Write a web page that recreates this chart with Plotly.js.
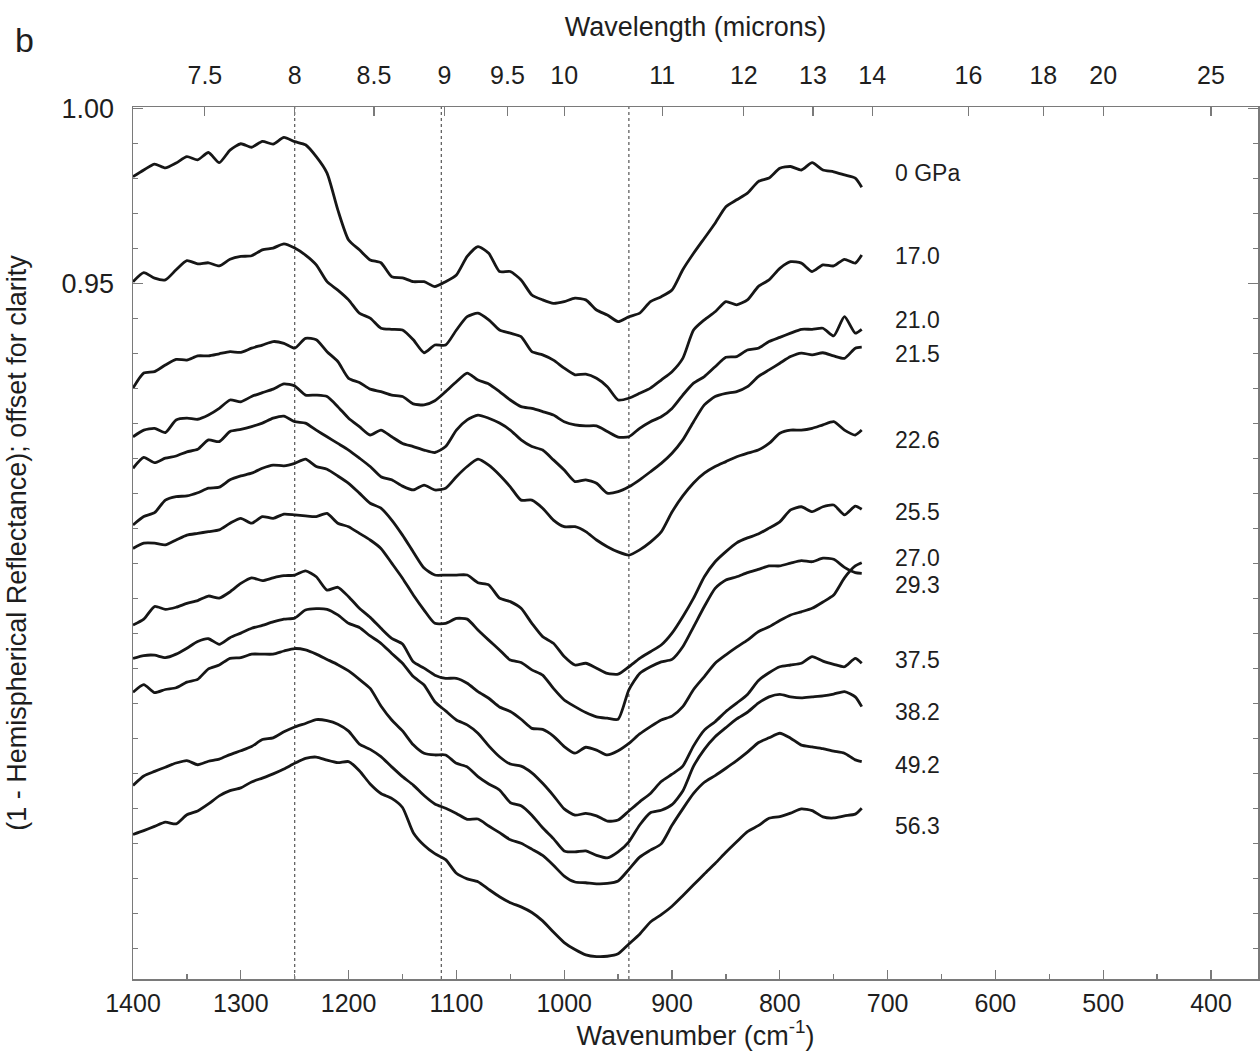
<!DOCTYPE html>
<html>
<head>
<meta charset="utf-8">
<script src="https://cdn.plot.ly/plotly-3.0.1.min.js"></script>
<style>
html,body{margin:0;padding:0;background:#ffffff;}
#chart{width:1260px;height:1056px;}
</style>
</head>
<body>
<div id="chart"></div>
<script>
// Wavenumber grid (cm^-1)
const wavenumber = [1400,1390,1380,1370,1360,1350,1340,1330,1320,1310,
  1300,1290,1280,1270,1260,1250,1240,1230,1220,1210,
  1200,1190,1180,1170,1160,1150,1140,1130,1120,1110,
  1100,1090,1080,1070,1060,1050,1040,1030,1020,1010,
  1000,990,980,970,960,950,940,930,920,910,
  900,890,880,870,860,850,840,830,820,810,
  800,790,780,770,760,750,740,730,724];

// (1 - hemispherical reflectance), offset for clarity
const p00_0 = [0.9805,0.9824,0.9841,0.983,0.9844,0.9862,0.9853,0.9874,0.9845,0.9881,
  0.9899,0.9889,0.9906,0.9898,0.9917,0.9905,0.9896,0.9862,0.9815,0.971,
  0.9624,0.9596,0.9567,0.9559,0.9519,0.9516,0.9505,0.9505,0.9491,0.9505,
  0.9524,0.9577,0.9605,0.9586,0.9534,0.9534,0.951,0.9467,0.9453,0.9443,
  0.9448,0.9458,0.9453,0.9424,0.941,0.9391,0.9405,0.9415,0.9448,0.9462,
  0.9481,0.9539,0.9586,0.9629,0.9672,0.9719,0.9739,0.9758,0.9791,0.9801,
  0.9829,0.9834,0.9824,0.9845,0.9824,0.9819,0.981,0.9801,0.9775];
const p17_0 = [0.9505,0.9531,0.9515,0.951,0.9539,0.9565,0.9556,0.9559,0.955,0.9569,
  0.9577,0.9579,0.9596,0.9601,0.9613,0.9601,0.9581,0.9553,0.9505,0.9481,
  0.9453,0.9415,0.9401,0.9372,0.9369,0.9367,0.9339,0.9302,0.9324,0.9324,
  0.9367,0.9405,0.9415,0.9396,0.9367,0.9358,0.9348,0.9305,0.9296,0.9281,
  0.9258,0.9239,0.9241,0.9229,0.9205,0.9167,0.9172,0.9186,0.9201,0.9224,
  0.9248,0.9286,0.9367,0.9396,0.9419,0.9448,0.9439,0.9453,0.9491,0.951,
  0.9543,0.9562,0.9558,0.9534,0.9553,0.955,0.9569,0.9558,0.9581];
const p21_0 = [0.9201,0.9244,0.9248,0.9267,0.9283,0.9281,0.9293,0.9293,0.9299,0.9305,
  0.9303,0.9315,0.9324,0.9334,0.9329,0.9315,0.9343,0.9339,0.9305,0.9277,
  0.9229,0.9217,0.9198,0.9191,0.9181,0.9177,0.9156,0.9153,0.9165,0.9191,
  0.9219,0.9244,0.9224,0.9213,0.9191,0.9167,0.9148,0.9143,0.9134,0.9124,
  0.9105,0.9096,0.9093,0.9093,0.9077,0.9061,0.9062,0.9086,0.9105,0.9119,
  0.9143,0.9181,0.9215,0.9234,0.9262,0.9289,0.9291,0.931,0.9315,0.9334,
  0.9346,0.9358,0.9369,0.9369,0.9372,0.935,0.9405,0.9358,0.9369];
const p21_5 = [0.9062,0.9081,0.9086,0.9074,0.911,0.9115,0.9112,0.9124,0.9143,0.9167,
  0.9162,0.9177,0.9188,0.9198,0.9213,0.9207,0.9181,0.9181,0.9177,0.9148,
  0.9115,0.9091,0.9067,0.9081,0.9062,0.9043,0.9034,0.9024,0.9017,0.9034,
  0.9081,0.911,0.9124,0.9115,0.9101,0.9081,0.9053,0.9034,0.9024,0.8996,
  0.8967,0.8934,0.8939,0.8929,0.8901,0.8905,0.8919,0.8939,0.8962,0.8986,
  0.9015,0.9053,0.9105,0.9153,0.9177,0.9186,0.9191,0.9205,0.9234,0.9253,
  0.9272,0.9291,0.9301,0.9296,0.9302,0.9293,0.9286,0.9315,0.9318];
const p22_6 = [0.8972,0.9003,0.8988,0.9001,0.9007,0.9019,0.9026,0.9053,0.9048,0.9077,
  0.9083,0.9091,0.9101,0.9115,0.9121,0.9105,0.9101,0.9081,0.9062,0.9043,
  0.9024,0.9001,0.8977,0.8948,0.8939,0.8921,0.891,0.8924,0.891,0.8915,
  0.8948,0.8977,0.8998,0.8981,0.8953,0.8919,0.8881,0.8881,0.8858,0.8824,
  0.8805,0.8805,0.8791,0.8767,0.8748,0.8733,0.8724,0.8739,0.8761,0.879,
  0.8847,0.8893,0.893,0.8958,0.8977,0.8991,0.9005,0.9015,0.9024,0.9043,
  0.9072,0.9081,0.9081,0.9086,0.9096,0.9105,0.9081,0.9067,0.9081];
const p25_5 = [0.881,0.8834,0.8845,0.8881,0.8891,0.8893,0.8902,0.8915,0.8918,0.8939,
  0.895,0.8958,0.8972,0.8981,0.8979,0.8986,0.8998,0.8977,0.8969,0.895,
  0.8929,0.8901,0.8872,0.8858,0.8824,0.8781,0.8733,0.8687,0.8667,0.8667,
  0.8667,0.8667,0.8645,0.8639,0.8601,0.8591,0.8572,0.8529,0.8491,0.8472,
  0.8434,0.841,0.8415,0.8401,0.8386,0.8384,0.8405,0.8429,0.8448,0.8467,
  0.8501,0.8548,0.8601,0.8662,0.8705,0.8734,0.8759,0.8773,0.8784,0.8801,
  0.8819,0.8853,0.8862,0.8848,0.8862,0.8867,0.8839,0.8864,0.8855];
const p27_0 = [0.8743,0.8758,0.8758,0.8753,0.8767,0.8781,0.8786,0.8791,0.8796,0.8815,
  0.8829,0.8815,0.8834,0.8829,0.8841,0.8839,0.8836,0.8834,0.8843,0.8815,
  0.8805,0.8786,0.8767,0.8743,0.8701,0.8658,0.861,0.8567,0.8529,0.8529,
  0.8543,0.8541,0.851,0.8481,0.8453,0.8424,0.8417,0.8396,0.8381,0.8343,
  0.831,0.8291,0.8274,0.8262,0.8258,0.8255,0.8339,0.8386,0.8405,0.8419,
  0.8426,0.8462,0.8519,0.8577,0.8629,0.8653,0.8662,0.8674,0.8683,0.8693,
  0.8693,0.8701,0.8708,0.8705,0.8715,0.8712,0.8689,0.8674,0.8672];
const p29_3 = [0.8524,0.8541,0.8577,0.8569,0.8575,0.8586,0.8594,0.8607,0.8601,0.8619,
  0.8643,0.8659,0.8651,0.8659,0.8665,0.8667,0.8679,0.8662,0.8624,0.8632,
  0.8605,0.8572,0.8546,0.8515,0.8486,0.847,0.8419,0.8401,0.8381,0.8372,
  0.8372,0.8358,0.8334,0.8315,0.829,0.8277,0.8255,0.8229,0.8226,0.8207,
  0.8177,0.8158,0.8175,0.8167,0.8153,0.8165,0.8186,0.8213,0.8234,0.8253,
  0.8264,0.8291,0.834,0.8377,0.8415,0.8439,0.8461,0.8481,0.8505,0.8519,
  0.8537,0.8553,0.8562,0.8572,0.859,0.861,0.8659,0.8693,0.8702];
const p37_5 = [0.8429,0.8437,0.8438,0.8431,0.8441,0.8458,0.8477,0.8485,0.8469,0.8488,
  0.8501,0.8515,0.8523,0.8533,0.8541,0.8544,0.8567,0.8571,0.8569,0.8553,
  0.8529,0.8517,0.8493,0.8472,0.8443,0.8415,0.8377,0.8353,0.8305,0.8279,
  0.8253,0.8239,0.8215,0.8179,0.8148,0.8127,0.8121,0.8102,0.8072,0.8037,
  0.7999,0.7981,0.7986,0.7979,0.7964,0.7967,0.7993,0.8019,0.8043,0.8077,
  0.8098,0.8121,0.8179,0.8224,0.8248,0.8277,0.8301,0.8326,0.8365,0.8388,
  0.8405,0.841,0.8415,0.8434,0.8421,0.8412,0.8405,0.8429,0.8415];
const p38_2 = [0.8332,0.8354,0.8331,0.834,0.8345,0.8361,0.8369,0.8399,0.841,0.8429,
  0.8431,0.8441,0.8441,0.8441,0.845,0.8457,0.8453,0.8441,0.8426,0.8411,
  0.8393,0.8369,0.8343,0.8293,0.8253,0.8222,0.8182,0.8158,0.8153,0.8153,
  0.8129,0.8119,0.8091,0.807,0.8053,0.8017,0.8008,0.7981,0.7945,0.7914,
  0.7879,0.7876,0.7879,0.7866,0.7859,0.7876,0.7905,0.7953,0.7988,0.7995,
  0.8011,0.805,0.8121,0.8169,0.8205,0.8231,0.8256,0.8275,0.8301,0.8319,
  0.8326,0.8319,0.8316,0.8319,0.8322,0.8327,0.8334,0.8319,0.8291];
const p49_2 = [0.8066,0.8093,0.8106,0.8118,0.813,0.8137,0.8125,0.8135,0.8141,0.8154,
  0.8165,0.8177,0.8197,0.8202,0.8219,0.8233,0.8243,0.8254,0.8251,0.8241,
  0.8221,0.8184,0.8169,0.8148,0.8119,0.8091,0.8067,0.8037,0.8013,0.8001,
  0.7986,0.7969,0.797,0.795,0.7931,0.7911,0.7901,0.7884,0.7866,0.7838,
  0.7807,0.779,0.7788,0.7785,0.7786,0.7793,0.7826,0.7861,0.7881,0.7899,
  0.7952,0.7999,0.8043,0.8075,0.8094,0.8115,0.8137,0.8161,0.8188,0.8202,
  0.8215,0.8201,0.8181,0.8176,0.8171,0.8164,0.8158,0.8139,0.8134];
const p56_3 = [0.7926,0.7937,0.7949,0.7961,0.7956,0.7982,0.7993,0.8013,0.8036,0.8051,
  0.8059,0.8076,0.8087,0.8099,0.8113,0.8129,0.8143,0.8147,0.8138,0.8131,
  0.8134,0.8108,0.807,0.8043,0.8029,0.8003,0.7931,0.7895,0.7871,0.7854,
  0.7815,0.7799,0.7791,0.7769,0.7748,0.7731,0.7719,0.7703,0.7679,0.7647,
  0.7617,0.7597,0.7582,0.7577,0.7578,0.7585,0.7613,0.7641,0.7676,0.7697,
  0.7721,0.7751,0.7782,0.7813,0.7843,0.7875,0.7905,0.7934,0.7951,0.7972,
  0.7977,0.7987,0.7999,0.7994,0.7976,0.7973,0.7979,0.7984,0.8001];

const seriesNames = ['0 GPa','17.0','21.0','21.5','22.6','25.5','27.0','29.3','37.5','38.2','49.2','56.3'];
const seriesValues = [p00_0,p17_0,p21_0,p21_5,p22_6,p25_5,p27_0,p29_3,p37_5,p38_2,p49_2,p56_3];
const labelY = [0.9816,0.9579,0.9396,0.9299,0.9053,0.8847,0.8716,0.8639,0.8424,0.8276,0.8124,0.7950];
const labelX = 695;

const wavelengthTicks = [7.5,8,8.5,9,9.5,10,11,12,13,14,16,18,20,25];
const guideWavenumbers = [1250,1114,940];
const yTickVals = [0.95,1.00];
const yTickText = ['0.95','1.00'];

const xRange = [1400,356.4];
const yRange = [0.7513,1.0004];

const FONT = 'Liberation Sans, Arial, Helvetica, sans-serif';
const AX = '#7a7a7a';
const TXT = '#1e1e1e';

const traces = seriesValues.map((vals,i)=>({
  type:'scatter', mode:'lines', x:wavenumber, y:vals, name:seriesNames[i],
  line:{color:'#161616', width:2.8, shape:'spline', smoothing:0.6},
  hoverinfo:'skip', showlegend:false, xaxis:'x', yaxis:'y'
}));
// carrier for the top (wavelength) axis
traces.push({type:'scatter', mode:'lines', x:[xRange[0],xRange[1]], y:[null,null],
  xaxis:'x2', yaxis:'y', hoverinfo:'skip', showlegend:false});

const annotations = seriesNames.map((t,i)=>({
  x:labelX, y:labelY[i], xref:'x', yref:'y', text:t, showarrow:false,
  xanchor:'left', yanchor:'middle', font:{family:FONT, size:23, color:TXT}
}));
annotations.push({x:-0.107, y:1.077, xref:'paper', yref:'paper', text:'b', showarrow:false,
  xanchor:'left', yanchor:'middle', font:{family:FONT, size:34, color:TXT}});

const shapes = guideWavenumbers.map(w=>({
  type:'line', xref:'x', yref:'paper', x0:w, x1:w, y0:0, y1:1, layer:'below',
  line:{color:'#555555', width:1.2, dash:'dot'}
}));

const layout = {
  width:1260, height:1056,
  margin:{l:133, r:2, t:107, b:77, pad:0},
  paper_bgcolor:'#ffffff', plot_bgcolor:'#ffffff',
  font:{family:FONT, color:TXT, size:25},
  showlegend:false,
  xaxis:{
    range:xRange, tickmode:'linear', tick0:400, dtick:100,
    ticks:'inside', ticklen:9, tickwidth:1.2, tickcolor:AX,
    minor:{tickmode:'linear', tick0:350, dtick:50, ticks:'inside', ticklen:5, tickwidth:1.2, tickcolor:AX},
    showline:true, linecolor:AX, linewidth:1.5, mirror:false,
    showgrid:false, zeroline:false,
    tickfont:{family:FONT, size:25, color:TXT}, ticklabelstandoff:1,
    title:{text:'Wavenumber (cm<sup>-1</sup>)', font:{family:FONT, size:27, color:TXT}, standoff:4}
  },
  xaxis2:{
    overlaying:'x', side:'top', anchor:'y', range:xRange,
    tickmode:'array', tickvals:wavelengthTicks.map(l=>10000/l), ticktext:wavelengthTicks.map(String),
    ticks:'inside', ticklen:9, tickwidth:1.2, tickcolor:AX,
    showline:true, linecolor:AX, linewidth:1.5,
    showgrid:false, zeroline:false,
    tickfont:{family:FONT, size:25, color:TXT}, ticklabelstandoff:12,
    title:{text:'Wavelength (microns)', font:{family:FONT, size:27, color:TXT}, standoff:16}
  },
  yaxis:{
    range:yRange, tickmode:'array', tickvals:yTickVals, ticktext:yTickText,
    ticks:'inside', ticklen:10, tickwidth:1.2, tickcolor:AX,
    minor:{tickmode:'linear', tick0:0, dtick:0.01, ticks:'inside', ticklen:5, tickwidth:1.2, tickcolor:AX},
    showline:true, linecolor:AX, linewidth:1.5, mirror:'ticks',
    showgrid:false, zeroline:false,
    tickfont:{family:FONT, size:27, color:TXT}, ticklabelstandoff:12,
    title:{text:'(1 - Hemispherical Reflectance); offset for clarity', font:{family:FONT, size:27, color:TXT}, standoff:27}
  },
  annotations:annotations,
  shapes:shapes
};

Plotly.newPlot('chart', traces, layout, {staticPlot:true, displayModeBar:false});
</script>
</body>
</html>
